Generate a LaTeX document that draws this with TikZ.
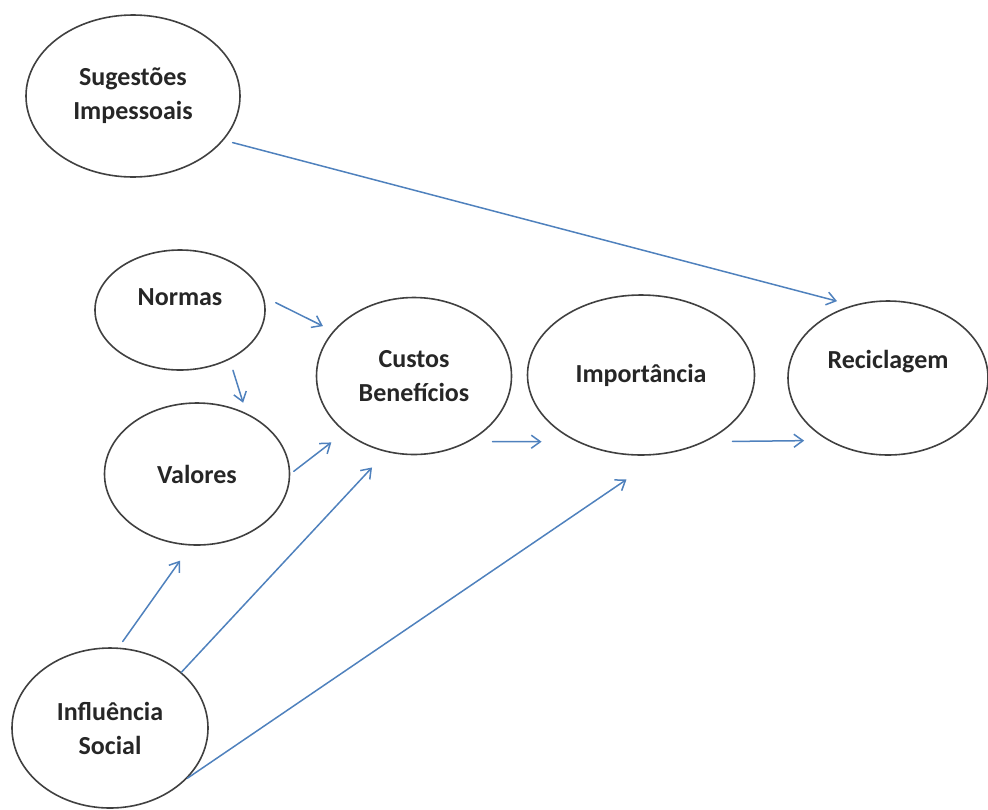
\documentclass[tikz,border=0pt]{standalone}
\usepackage{fontspec}
\setmainfont{Carlito}
\usetikzlibrary{shapes.geometric,arrows.meta}
\definecolor{azul}{RGB}{79,129,189}
\begin{document}
\begin{tikzpicture}[x=0.5pt,y=-0.5pt,>={Straight Barb[length=4.5pt,width=6.5pt]},
		font=\bfseries\fontsize{13}{17}\selectfont, line join=round, line cap=round,
		elip/.style={ellipse,draw=black!75,line width=0.8pt,inner sep=0pt,align=center,text=black!85},
		seta/.style={->,draw=azul,line width=0.75pt}]
	\useasboundingbox (0,0) rectangle (988,809);
	
	% elipses
	\node[elip,minimum width=107pt,minimum height=81pt] (sug) at (133,96) {Sugestões\\Impessoais};
	\node[elip,minimum width=85pt,minimum height=60pt,label={[yshift=6.5pt,text=black!85]center:Normas}] (norm) at (180,310) {};
	\node[elip,minimum width=92.5pt,minimum height=71pt] (val) at (197,474) {Valores};
	\node[elip,minimum width=97.5pt,minimum height=78.5pt] (cust) at (414,376) {Custos\\Benefícios};
	\node[elip,minimum width=113.5pt,minimum height=80pt] (imp) at (641,375) {Importância};
	\node[elip,minimum width=100pt,minimum height=77pt,label={[yshift=8pt,text=black!85]center:Reciclagem}] (rec) at (888,378) {};
	\node[elip,minimum width=98pt,minimum height=80pt] (inf) at (110,728) {Influência\\Social};
	
	% setas
	\draw[seta,shorten <=4.6pt,shorten >=8pt] (sug.-26) -- (rec.116);
	\draw[seta,shorten <=6.7pt,shorten >=5.6pt] (norm.9) -- (cust.151.5);
	\draw[seta,shorten <=5.6pt,shorten >=5.4pt] (norm.-45) -- (val.51.5);
	\draw[seta,shorten <=2.2pt,shorten >=8.4pt] (val.0) -- (cust.-141);
	\draw[seta,shorten <=11.7pt,shorten >=17.5pt] (cust.-50) -- (imp.-134);
	\draw[seta,shorten <=13.5pt,shorten >=11.8pt] (imp.-46) -- (rec.-134);
	\draw[seta,shorten <=3.7pt,shorten >=9.2pt] (inf.84.5) -- (val.-95);
	\draw[seta,shorten >=10.5pt] (inf.38) -- (cust.-110);
	\draw[seta,shorten >=22.5pt] (inf.-33) -- (imp.-74);
\end{tikzpicture}
\end{document}
